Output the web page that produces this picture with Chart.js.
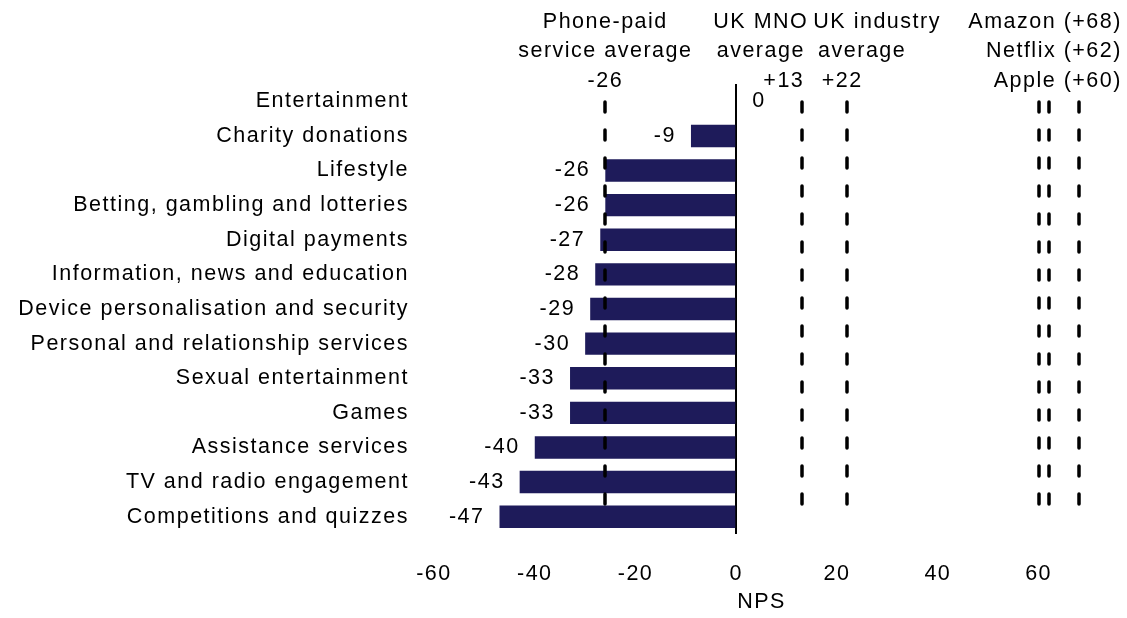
<!DOCTYPE html>
<html>
<head>
<meta charset="utf-8">
<script src="https://cdn.jsdelivr.net/npm/chart.js@4/dist/chart.umd.min.js"></script>
<style>
  html, body { margin: 0; padding: 0; background: #fff; }
  #wrap { width: 1127px; height: 618px; position: relative; }
</style>
</head>
<body>
<div id="wrap"><canvas id="npsChart"></canvas></div>
<script>
// NPS by phone-paid service category
const categories = [
    'Entertainment',
    'Charity donations',
    'Lifestyle',
    'Betting, gambling and lotteries',
    'Digital payments',
    'Information, news and education',
    'Device personalisation and security',
    'Personal and relationship services',
    'Sexual entertainment',
    'Games',
    'Assistance services',
    'TV and radio engagement',
    'Competitions and quizzes'
];
const npsValues = [0, -9, -26, -26, -27, -28, -29, -30, -33, -33, -40, -43, -47];

// benchmark lines (dashed)
const benchmarkValues = [-26, 13, 22, 60, 62, 68];

// x axis ticks
const xTicks = [-60, -40, -20, 0, 20, 40, 60];

const FONT = '"Liberation Sans", Arial, sans-serif';
const FONT_SIZE = 21.5;
const LETTER_SPACING = '1.5px';
const BAR_COLOR = '#1e1b5a';

// benchmark captions above the plot: anchor value, x shift, text lines, alignment
const captions = [
    { at: -26, dx: 0,   align: 'center', lines: ['Phone-paid', 'service average', '-26'] },
    { at: 13,  dx: -41, align: 'center', lines: ['UK MNO', 'average'] },
    { at: 13,  dx: -18, align: 'center', lines: [null, null, '+13'] },
    { at: 22,  dx: 30,  align: 'center', lines: ['UK industry'] },
    { at: 22,  dx: 15,  align: 'center', lines: [null, 'average'] },
    { at: 22,  dx: -5,  align: 'center', lines: [null, null, '+22'] },
    { at: 68,  dx: 43,  align: 'right',  lines: ['Amazon (+68)', 'Netflix (+62)', 'Apple (+60)'] }
];

// wider tracking for all canvas text
const spacingPlugin = {
    id: 'spacing',
    beforeInit(chart) { chart.ctx.letterSpacing = LETTER_SPACING; },
    beforeLayout(chart) { chart.ctx.letterSpacing = LETTER_SPACING; },
    beforeDraw(chart) { chart.ctx.letterSpacing = LETTER_SPACING; }
};

const overlayPlugin = {
    id: 'overlay',
    afterDatasetsDraw(chart) {
        const ctx = chart.ctx;
        const x = chart.scales.x;
        const area = chart.chartArea;

        // dashed benchmark lines
        ctx.save();
        ctx.strokeStyle = '#000';
        ctx.lineWidth = 3.5;
        ctx.lineCap = 'round';
        ctx.setLineDash([10, 18]);
        benchmarkValues.forEach(v => {
            const px = Math.round(x.getPixelForValue(v));
            ctx.beginPath();
            ctx.moveTo(px, area.top + 18);
            ctx.lineTo(px, area.bottom - 20);
            ctx.stroke();
        });
        ctx.restore();

        // value labels next to bar ends
        const meta = chart.getDatasetMeta(0);
        ctx.save();
        ctx.font = FONT_SIZE + 'px ' + FONT;
        ctx.fillStyle = '#000';
        ctx.textBaseline = 'middle';
        meta.data.forEach((bar, i) => {
            const v = npsValues[i];
            const end = x.getPixelForValue(v);
            if (v < 0) {
                ctx.textAlign = 'right';
                ctx.fillText(String(v), end - 15, bar.y);
            } else {
                ctx.textAlign = 'left';
                ctx.fillText(String(v), end + 16, bar.y);
            }
        });

        // captions
        captions.forEach(c => {
            const px = x.getPixelForValue(c.at) + c.dx;
            ctx.textAlign = c.align;
            c.lines.forEach((t, k) => {
                if (t) ctx.fillText(t, px, 22 + k * 29.5);
            });
        });
        ctx.restore();
    }
};

new Chart(document.getElementById('npsChart'), {
    type: 'bar',
    data: {
        labels: categories,
        datasets: [{
            data: npsValues,
            backgroundColor: BAR_COLOR,
            borderWidth: 0,
            barPercentage: 0.72,
            categoryPercentage: 0.9
        }]
    },
    options: {
        indexAxis: 'y',
        responsive: true,
        maintainAspectRatio: false,
        animation: false,
        layout: { padding: { top: 84, right: 38, left: 0, bottom: 0 } },
        plugins: {
            legend: { display: false },
            tooltip: { enabled: false }
        },
        scales: {
            x: {
                min: -60,
                max: 70,
                afterBuildTicks(scale) {
                    scale.ticks = xTicks.map(v => ({ value: v }));
                },
                afterFit(scale) { scale.height = 84; },
                ticks: {
                    color: '#000',
                    font: { family: FONT, size: FONT_SIZE },
                    padding: 27,
                    maxRotation: 0
                },
                grid: {
                    drawTicks: false,
                    color: ctx => ctx.tick && ctx.tick.value === 0 ? '#000' : 'rgba(0,0,0,0)',
                    lineWidth: 2
                },
                border: { display: false },
                title: {
                    display: true,
                    text: 'NPS',
                    color: '#000',
                    font: { family: FONT, size: FONT_SIZE },
                    padding: { top: 4, bottom: 3 }
                }
            },
            y: {
                afterFit(scale) { scale.width = 434; },
                ticks: {
                    color: '#000',
                    font: { family: FONT, size: FONT_SIZE },
                    padding: 25
                },
                grid: { display: false, drawTicks: false },
                border: { display: false }
            }
        }
    },
    plugins: [spacingPlugin, overlayPlugin]
});
</script>
</body>
</html>
